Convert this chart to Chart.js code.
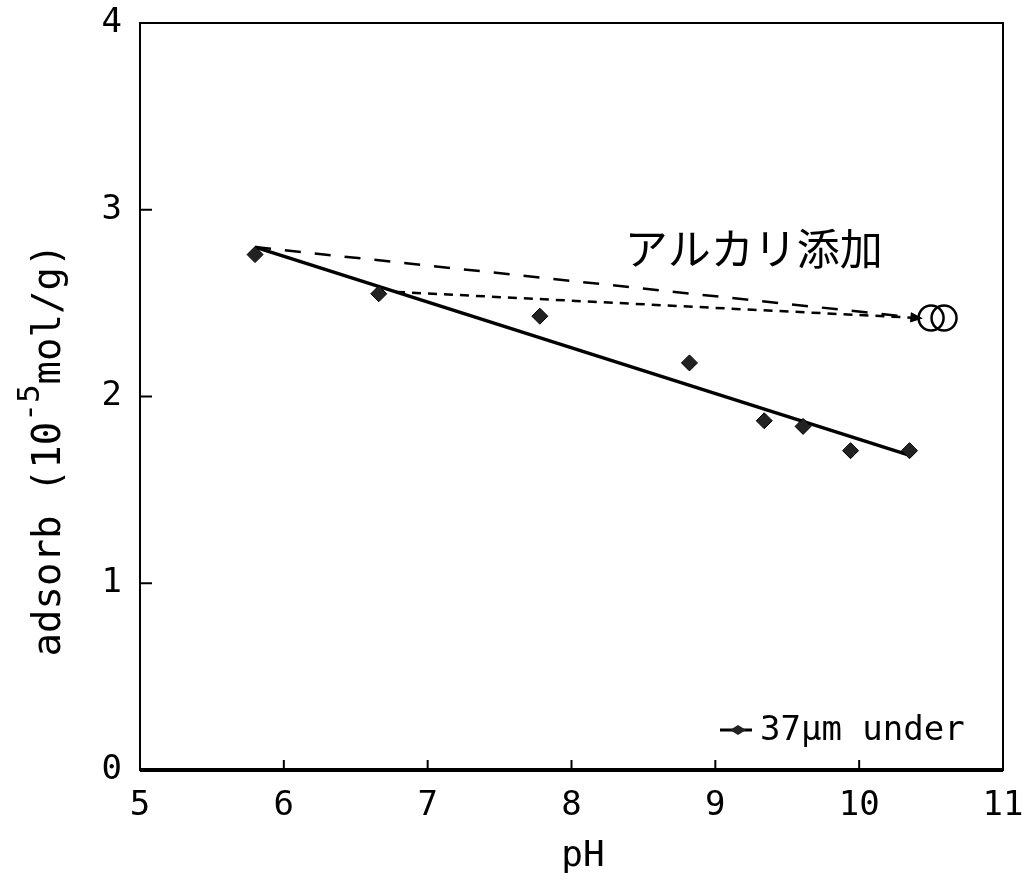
<!DOCTYPE html>
<html>
<head>
<meta charset="utf-8">
<script src="https://cdn.jsdelivr.net/npm/chart.js@4/dist/chart.umd.min.js"></script>
<style>
html,body{margin:0;padding:0;background:#fff;}
#wrap{width:1028px;height:883px;position:relative;}
</style>
</head>
<body>
<div id="wrap"><canvas id="c"></canvas></div>
<script>
// ---- data ----
const phValues = [5.8, 6.66, 7.78, 8.82, 9.34, 9.61, 9.94, 10.35];
const adsorbValues = [2.76, 2.55, 2.43, 2.18, 1.87, 1.84, 1.71, 1.71];
const fitX = [5.8, 10.33];
const fitY = [2.80, 1.69];
const alkaliLine1X = [5.8, 10.42];
const alkaliLine1Y = [2.80, 2.42];
const alkaliLine2X = [6.78, 10.42];
const alkaliLine2Y = [2.56, 2.42];
const alkaliPointsX = [10.50, 10.59];
const alkaliPointsY = [2.42, 2.42];
const xTicks = [5, 6, 7, 8, 9, 10, 11];
const yTicks = [0, 1, 2, 3, 4];
const seriesLabel = '37\u03BCm under';
const annotationText = 'アルカリ添加';
const xTitle = 'pH';

const zip = (xs, ys) => xs.map((x, i) => ({x: x, y: ys[i]}));
const MONO = "'DejaVu Sans Mono', monospace";

const framePlugin = {
  id: 'frame',
  afterDatasetsDraw(chart) {
    const ctx = chart.ctx, a = chart.chartArea;
    const xs = chart.scales.x, ys = chart.scales.y;
    ctx.save();
    ctx.strokeStyle = '#000';
    // box
    ctx.lineWidth = 2;
    ctx.strokeRect(a.left, a.top, a.right - a.left, a.bottom - a.top);
    ctx.lineWidth = 4;
    ctx.beginPath(); ctx.moveTo(a.left, a.bottom); ctx.lineTo(a.right, a.bottom); ctx.stroke();
    // inward ticks
    ctx.lineWidth = 2;
    xTicks.forEach(v => {
      const px = xs.getPixelForValue(v);
      ctx.beginPath(); ctx.moveTo(px, a.bottom); ctx.lineTo(px, a.bottom - 10); ctx.stroke();
    });
    yTicks.forEach(v => {
      const py = ys.getPixelForValue(v);
      ctx.beginPath(); ctx.moveTo(a.left, py); ctx.lineTo(a.left + 12, py); ctx.stroke();
    });
    // arrowheads
    [[alkaliLine1X, alkaliLine1Y], [alkaliLine2X, alkaliLine2Y]].forEach(([lx, ly]) => {
      const x1 = xs.getPixelForValue(lx[1]), y1 = ys.getPixelForValue(ly[1]);
      const x0 = xs.getPixelForValue(lx[0]), y0 = ys.getPixelForValue(ly[0]);
      const ang = Math.atan2(y1 - y0, x1 - x0);
      ctx.fillStyle = '#000';
      ctx.beginPath();
      ctx.moveTo(x1 + 3 * Math.cos(ang), y1 + 3 * Math.sin(ang));
      ctx.lineTo(x1 - 9 * Math.cos(ang) - 5 * Math.sin(ang), y1 - 9 * Math.sin(ang) + 5 * Math.cos(ang));
      ctx.lineTo(x1 - 9 * Math.cos(ang) + 5 * Math.sin(ang), y1 - 9 * Math.sin(ang) - 5 * Math.cos(ang));
      ctx.closePath(); ctx.fill();
    });
    // annotation text
    ctx.fillStyle = '#000';
    ctx.font = "43px 'Noto Sans CJK JP'";
    ctx.textAlign = 'left'; ctx.textBaseline = 'middle';
    ctx.fillText(annotationText, xs.getPixelForValue(8.37), ys.getPixelForValue(2.79));
    // legend
    const lx = 720, ly = 730;
    ctx.lineWidth = 3;
    ctx.beginPath(); ctx.moveTo(lx, ly); ctx.lineTo(lx + 32, ly); ctx.stroke();
    ctx.fillStyle = '#222';
    ctx.beginPath();
    ctx.moveTo(lx + 18, ly - 5); ctx.lineTo(lx + 26, ly); ctx.lineTo(lx + 18, ly + 5); ctx.lineTo(lx + 10, ly); ctx.closePath(); ctx.fill();
    ctx.fillStyle = '#000';
    ctx.font = "34px " + MONO;
    ctx.textBaseline = 'middle';
    ctx.fillText(seriesLabel, lx + 40, ly + 1);
    // axis titles
    ctx.font = "36px " + MONO;
    ctx.textAlign = 'center';
    ctx.fillText(xTitle, 583, 857);
    // y title with superscript
    ctx.translate(47, 450);
    ctx.rotate(-Math.PI / 2);
    const p1 = 'adsorb (10', p2 = '-5', p3 = 'mol/g)';
    ctx.font = "39px " + MONO;
    const w1 = ctx.measureText(p1).width, w3 = ctx.measureText(p3).width;
    ctx.font = "31px " + MONO;
    const w2 = ctx.measureText(p2).width;
    const total = w1 + w2 + w3;
    let cx = -total / 2;
    ctx.textAlign = 'left'; ctx.textBaseline = 'alphabetic';
    ctx.font = "39px " + MONO; ctx.fillText(p1, cx, 13); cx += w1;
    ctx.font = "31px " + MONO; ctx.fillText(p2, cx, -8); cx += w2;
    ctx.font = "39px " + MONO; ctx.fillText(p3, cx, 13);
    ctx.restore();
  }
};

new Chart(document.getElementById('c'), {
  type: 'scatter',
  data: {
    datasets: [
      {label: 'fit', data: zip(fitX, fitY), showLine: true, pointRadius: 0, borderColor: '#000', borderWidth: 3.5, order: 2},
      {label: 'alk1', data: zip(alkaliLine1X, alkaliLine1Y), showLine: true, pointRadius: 0, borderColor: '#000', borderWidth: 2.5, borderDash: [16, 14], order: 3},
      {label: 'alk2', data: zip(alkaliLine2X, alkaliLine2Y), showLine: true, pointRadius: 0, borderColor: '#000', borderWidth: 2.5, borderDash: [9, 7], order: 3},
      {label: seriesLabel, data: zip(phValues, adsorbValues), showLine: false, pointStyle: 'rectRot', pointRadius: 8, backgroundColor: '#222', borderColor: '#000', borderWidth: 1, order: 1},
      {label: 'alkPts', data: zip(alkaliPointsX, alkaliPointsY), showLine: false, pointStyle: 'circle', pointRadius: 12.5, backgroundColor: 'rgba(0,0,0,0)', borderColor: '#000', borderWidth: 2.5, order: 1}
    ]
  },
  options: {
    responsive: true,
    maintainAspectRatio: false,
    animation: false,
    layout: {padding: {top: 23, right: 25, left: 0, bottom: 0}},
    plugins: {legend: {display: false}, tooltip: {enabled: false}},
    scales: {
      x: {
        type: 'linear', min: 5, max: 11,
        afterBuildTicks: s => { s.ticks = xTicks.map(v => ({value: v})); },
        afterFit: s => { s.height = 113; s.paddingLeft = 0; s.paddingRight = 0; },
        grid: {display: false, drawTicks: false},
        border: {display: false},
        ticks: {padding: 16, color: '#000', font: {family: MONO, size: 34}}
      },
      y: {
        type: 'linear', min: 0, max: 4,
        afterBuildTicks: s => { s.ticks = yTicks.map(v => ({value: v})); },
        afterFit: s => { s.width = 140; s.paddingTop = 0; s.paddingBottom = 0; },
        grid: {display: false, drawTicks: false},
        border: {display: false},
        ticks: {padding: 18, color: '#000', font: {family: MONO, size: 34}}
      }
    }
  },
  plugins: [framePlugin]
});
</script>
</body>
</html>
